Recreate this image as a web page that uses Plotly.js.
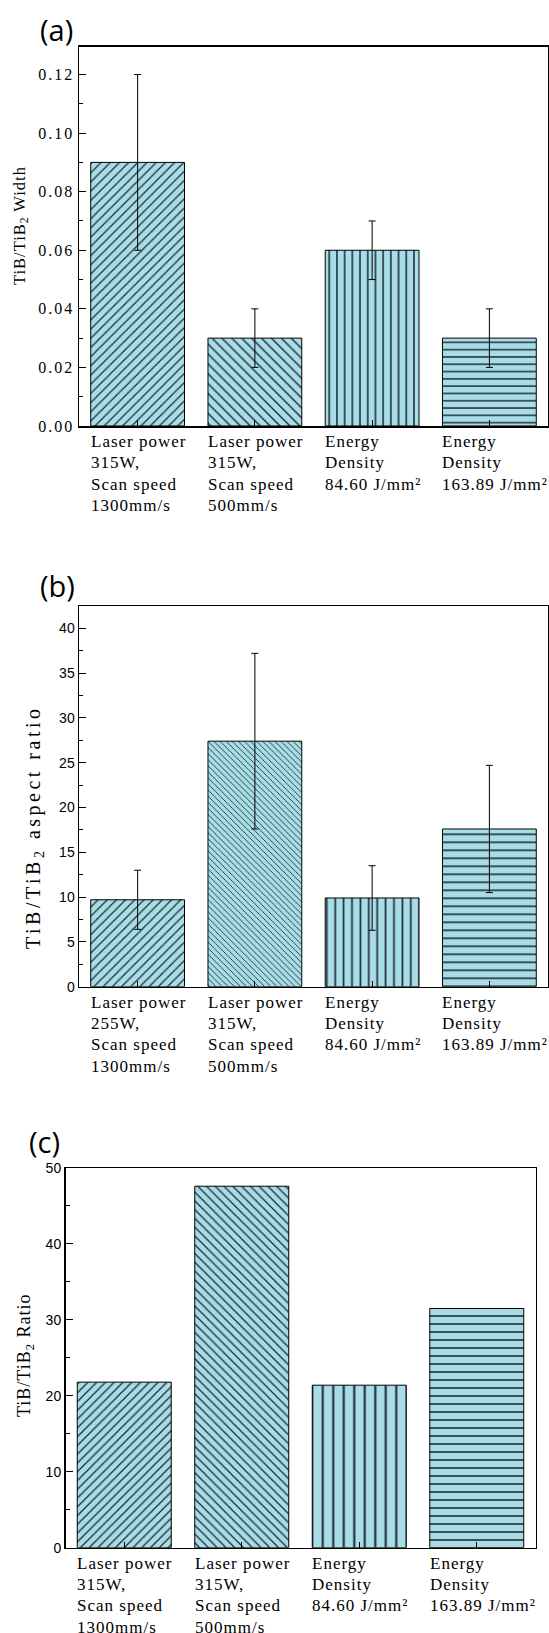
<!DOCTYPE html>
<html><head><meta charset="utf-8">
<script src="https://cdn.plot.ly/plotly-3.0.1.min.js"></script>
<style>
html,body{margin:0;padding:0;background:#fff}
#chart{width:549px;height:1633px}
text[style*="Liberation Serif"]{letter-spacing:1px}
text[style*="Times New Roman"]{letter-spacing:2px}
text[style*="Tinos"]{letter-spacing:3.5px}
</style>
</head><body><div id="chart"></div>
<script>
// ---------- data ----------
const categories = [0, 1, 2, 3];
const labelsA = [["Laser power","315W,","Scan speed","1300mm/s"],["Laser power","315W,","Scan speed","500mm/s"],["Energy","Density","84.60 J/mm²"],["Energy","Density","163.89 J/mm²"]];
const labelsB = [["Laser power","255W,","Scan speed","1300mm/s"],["Laser power","315W,","Scan speed","500mm/s"],["Energy","Density","84.60 J/mm²"],["Energy","Density","163.89 J/mm²"]];
const labelsC = [["Laser power","315W,","Scan speed","1300mm/s"],["Laser power","315W,","Scan speed","500mm/s"],["Energy","Density","84.60 J/mm²"],["Energy","Density","163.89 J/mm²"]];
const widthVals = [0.09, 0.03, 0.06, 0.03];
const widthErr = [0.03, 0.01, 0.01, 0.01];
const aspectVals = [9.7, 27.4, 9.9, 17.6];
const aspectErr = [3.3, 9.8, 3.6, 7.1];
const ratioVals = [21.8, 47.6, 21.4, 31.5];
const patternShapes = ["/", "\\", "|", "-"];
const titles = ["TiB/TiB<sub>2</sub> Width", "TiB/TiB<sub>2</sub> aspect ratio", "TiB/TiB<sub>2</sub> Ratio"];
const panelTags = ["(a)", "(b)", "(c)"];

// ---------- layout helpers ----------
const W = 549, H = 1633;
const px = x => x / W;
const py = y => 1 - y / H;
const FILL = "#a8dde5", HATCH = "#1c2a38";
const SERIF = "'Liberation Serif', serif";
const SERIF_TICK = "'Liberation Serif', 'Times New Roman', serif";
const SERIF_WIDE = "'Liberation Serif', Tinos, serif";
const SANS = "'Liberation Sans', Arial, sans-serif";

function barTrace(vals, err, xa, ya, sizes) {
  const t = {
    type: "bar", x: categories, y: vals, xaxis: xa, yaxis: ya, width: 0.8,
    marker: {
      color: FILL,
      line: {color: "#000", width: 1},
      pattern: {shape: patternShapes, size: sizes, solidity: 0.2, fgcolor: HATCH, bgcolor: FILL, fillmode: "replace"}
    },
    showlegend: false, hoverinfo: "skip"
  };
  if (err) t.error_y = {type: "data", array: err, visible: true, color: "#000", thickness: 1, width: 3.5};
  return t;
}

const traces = [
  barTrace(widthVals, widthErr, "x", "y", [6.5, 7, 7.7, 7.3]),
  barTrace(aspectVals, aspectErr, "x2", "y2", [6.5, 4.3, 8.4, 8]),
  barTrace(ratioVals, null, "x3", "y3", [6.2, 6.2, 10.5, 8])
];

function xAx(d0, d1, anchor) {
  return {domain: [d0, d1], range: [-0.5, 3.5], anchor: anchor, tickvals: categories, showticklabels: false,
    ticks: "inside", ticklen: 6, tickcolor: "#000", showline: true, linecolor: "#000", linewidth: 1.5,
    mirror: true, showgrid: false, zeroline: false, fixedrange: true};
}
function yAx(d0, d1, anchor, range, dtick, fmt, font) {
  return {domain: [d0, d1], range: range, anchor: anchor, dtick: dtick, tick0: 0, tickformat: fmt,
    ticks: "inside", ticklen: 7, tickcolor: "#000", showline: true, linecolor: "#000", linewidth: 1.5,
    mirror: true, showgrid: false, zeroline: false, tickfont: font, fixedrange: true,
    minor: {ticks: "inside", ticklen: 4, dtick: dtick / 2, tickcolor: "#000", showgrid: false}};
}

// panel frames in pixels
const panels = [
  {xl: 79, xr: 548, top: 46.7, bot: 426, labels: labelsA, xa: "x", tag: [56, 30], title: [20, 226, 16.5, SERIF]},
  {xl: 79, xr: 548, top: 606.3, bot: 986.7, labels: labelsB, xa: "x2", tag: [57, 585], title: [34, 827, 20, SERIF_WIDE]},
  {xl: 65.5, xr: 535.5, top: 1168, bot: 1547.7, labels: labelsC, xa: "x3", tag: [44, 1141], title: [25, 1355, 18, SERIF]}
];

const layout = {
  width: W, height: H, margin: {l: 0, r: 0, t: 0, b: 0}, paper_bgcolor: "#fff", plot_bgcolor: "#fff",
  showlegend: false, bargap: 0.2,
  xaxis: xAx(px(panels[0].xl), px(panels[0].xr), "y"),
  yaxis: yAx(py(panels[0].bot), py(panels[0].top), "x", [0, 0.1295], 0.02, ".2f", {family: SERIF_TICK, size: 16, color: "#000"}),
  xaxis2: xAx(px(panels[1].xl), px(panels[1].xr), "y2"),
  yaxis2: yAx(py(panels[1].bot), py(panels[1].top), "x2", [0, 42.45], 5, "d", {family: SANS, size: 14, color: "#000"}),
  xaxis3: xAx(px(panels[2].xl), px(panels[2].xr), "y3"),
  yaxis3: yAx(py(panels[2].bot), py(panels[2].top), "x3", [0, 50], 10, "d", {family: SANS, size: 14, color: "#000"}),
  annotations: []
};

panels.forEach((p, k) => {
  layout.annotations.push({text: panelTags[k], xref: "paper", yref: "paper", x: px(p.tag[0]), y: py(p.tag[1]),
    xanchor: "center", yanchor: "middle", showarrow: false, font: {family: "'Open Sans', sans-serif", size: 29, color: "#000"}});
  layout.annotations.push({text: titles[k], xref: "paper", yref: "paper", x: px(p.title[0]), y: py(p.title[1]),
    xanchor: "center", yanchor: "middle", textangle: -90, showarrow: false, font: {family: p.title[3], size: p.title[2], color: "#000"}});
  p.labels.forEach((lines, i) => {
    lines.forEach((ln, j) => {
      layout.annotations.push({text: ln, xref: p.xa, yref: "paper", x: categories[i] - 0.4, y: py(p.bot + 15.5 + 21.3 * j),
        xanchor: "left", yanchor: "middle", xshift: -2, showarrow: false, align: "left",
        font: {family: SERIF, size: 17, color: "#000"}});
    });
  });
});

Plotly.newPlot("chart", traces, layout, {staticPlot: true, displayModeBar: false});
</script></body></html>
